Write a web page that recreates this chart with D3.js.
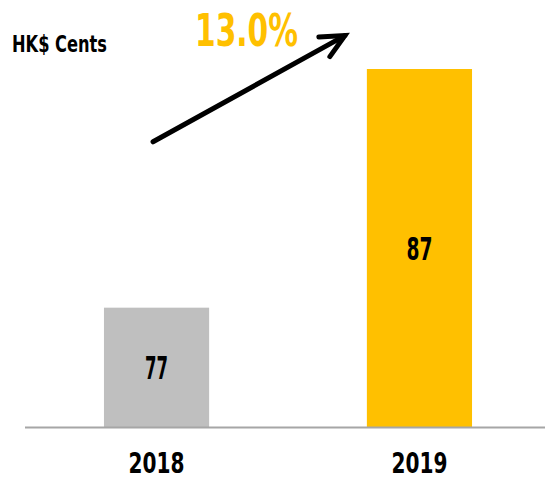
<!DOCTYPE html>
<html>
<head>
<meta charset="utf-8">
<script src="https://cdn.jsdelivr.net/npm/d3@7"></script>
<style>
  html, body { margin: 0; padding: 0; background: #fff; }
  svg { display: block; }
  text { font-family: "DejaVu Sans", sans-serif; font-weight: bold; }
</style>
</head>
<body>
<svg id="chart" width="545" height="477"></svg>
<script>
const categories = ["2018", "2019"];
const values = [77, 87];
const barColors = ["#bfbfbf", "#ffc000"];
const unitLabel = "HK$ Cents";
const growthLabel = "13.0%";

const W = 545, H = 477;
const svg = d3.select("#chart");

const x = d3.scaleBand().domain(categories).range([25.1, 550.9]).paddingInner(0.6).paddingOuter(0.3);
const y = d3.scaleLinear().domain([72, 87]).range([427, 69]);

// bars
svg.selectAll("rect.bar").data(categories).join("rect")
  .attr("class", "bar")
  .attr("x", d => x(d))
  .attr("y", (d, i) => y(values[i]))
  .attr("width", x.bandwidth())
  .attr("height", (d, i) => y.range()[0] - y(values[i]))
  .attr("fill", (d, i) => barColors[i]);

// value labels
svg.selectAll("text.val").data(categories).join("text")
  .attr("class", "val")
  .attr("x", d => x(d) + x.bandwidth() / 2)
  .attr("y", (d, i) => (y(values[i]) + y.range()[0]) / 2 + 11.5)
  .attr("text-anchor", "middle")
  .attr("font-size", 31.5)
  .attr("fill", "#000")
  .attr("textLength", (d, i) => i === 0 ? 23 : 26)
  .attr("lengthAdjust", "spacingAndGlyphs")
  .text((d, i) => values[i]);

// baseline axis
const xAxis = d3.axisBottom(x).tickSize(0).tickPadding(0);
const gx = svg.append("g").attr("transform", `translate(0,${y.range()[0] + 0.5})`).call(xAxis);
gx.select(".domain").attr("d", `M25,0H${W}`).attr("stroke", "#a6a6a6").attr("stroke-width", 2);
gx.selectAll(".tick text")
  .attr("y", 45.5)
  .attr("dy", 0)
  .attr("font-size", 27.5)
  .attr("fill", "#000")
  .attr("textLength", 56)
  .attr("lengthAdjust", "spacingAndGlyphs")
  .style("font-family", '"DejaVu Sans", sans-serif')
  .style("font-weight", "bold");

// unit label
svg.append("text").attr("x", 12).attr("y", 52).attr("font-size", 23.5).attr("fill", "#000")
  .attr("textLength", 95).attr("lengthAdjust", "spacingAndGlyphs").text(unitLabel);

// growth label
svg.append("text").attr("x", 195).attr("y", 46).attr("font-size", 45).attr("fill", "#ffc000")
  .attr("textLength", 103).attr("lengthAdjust", "spacingAndGlyphs").text(growthLabel);

// arrow
const x0 = x(categories[0]) + x.bandwidth() / 2 - 3.5;
const x1 = x(categories[1]) - 22;
const y0 = y(83.95), y1 = y(88.4);
svg.append("path")
  .attr("d", `M${x0},${y0}L${x1},${y1}`)
  .attr("stroke", "#000").attr("stroke-width", 5).attr("stroke-linecap", "round").attr("fill", "none");
svg.append("path")
  .attr("d", `M${x1 - 26},${y1 + 1.5}L${x1},${y1}L${x1 - 15},${y1 + 21}`)
  .attr("stroke", "#000").attr("stroke-width", 5).attr("stroke-linecap", "round").attr("stroke-linejoin", "miter").attr("fill", "none");
</script>
</body>
</html>
